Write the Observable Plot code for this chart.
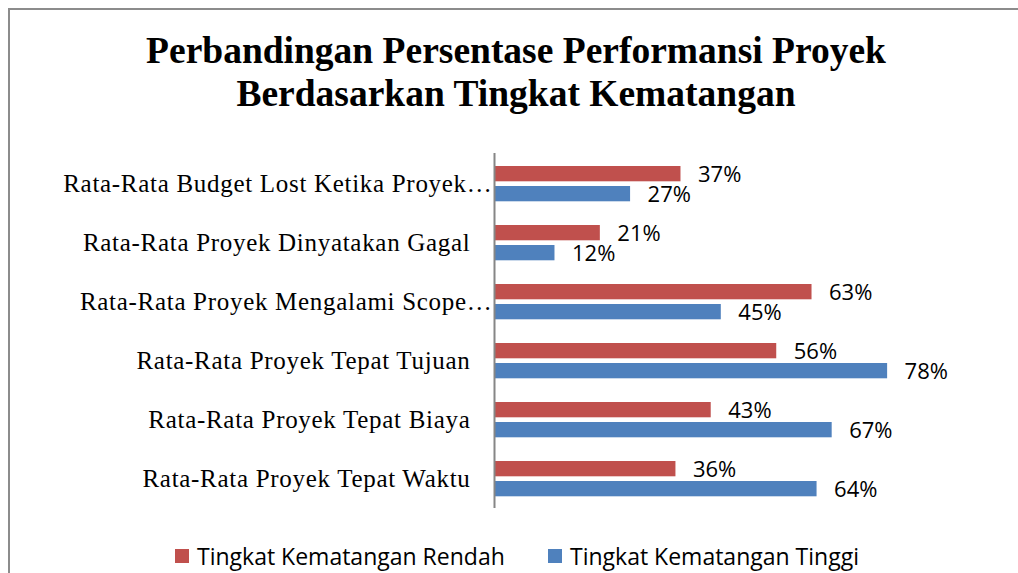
<!DOCTYPE html>
<html>
<head>
<meta charset="utf-8">
<script src="https://cdn.jsdelivr.net/npm/d3@7"></script>
<script src="https://cdn.jsdelivr.net/npm/@observablehq/plot@0.6"></script>
<style>
  html, body { margin: 0; padding: 0; background: #fff; }
  body { width: 1018px; height: 573px; position: relative; overflow: hidden; }
  #frame { position: absolute; left: 8px; top: 8px; width: 1100px; height: 700px;
           border-left: 2px solid #8c8c8c; border-top: 2px solid #8c8c8c; }
  #title { position: absolute; left: 0; top: 29px; width: 1032px; text-align: center;
           font-family: "Liberation Serif", "Times New Roman", serif; font-weight: bold;
           font-size: 37.5px; line-height: 43px; color: #000; }
  #chart { position: absolute; left: 0; top: 140px; }
  #legend { position: absolute; top: 542px; left: 0; width: 1018px; height: 28px;
            font-family: "Open Sans", sans-serif; font-size: 23px; color: #000; }
  .item { position: absolute; top: 0; display: flex; align-items: center; height: 28px; white-space: nowrap; }
  .sw { width: 14px; height: 14px; margin-right: 8px; }
</style>
</head>
<body>
<div id="frame"></div>
<div id="title">Perbandingan Persentase Performansi Proyek<br>Berdasarkan Tingkat Kematangan</div>
<div id="chart"></div>
<div id="legend"></div>
<script>
const categories = [
  "Rata-Rata Budget Lost Ketika Proyek…",
  "Rata-Rata Proyek Dinyatakan Gagal",
  "Rata-Rata Proyek Mengalami Scope…",
  "Rata-Rata Proyek Tepat Tujuan",
  "Rata-Rata Proyek Tepat Biaya",
  "Rata-Rata Proyek Tepat Waktu"
];
const rendah = [37, 21, 63, 56, 43, 36];
const tinggi = [27, 12, 45, 78, 67, 64];
const seriesNames = ["Tingkat Kematangan Rendah", "Tingkat Kematangan Tinggi"];
const seriesColors = ["#C0504D", "#4F81BD"];

const rows = categories.map((c, i) => ({category: c, rendah: rendah[i], tinggi: tinggi[i]}));
const isTrunc = d => d.category.endsWith("…");

const labelFont = {fontFamily: "'Liberation Serif', 'Times New Roman', serif", fontSize: 25, fill: "#000"};
const valFont = {fontFamily: "'Open Sans', sans-serif", fontSize: 22, fill: "#000"};

const plot = Plot.plot({
  width: 1018,
  height: 380,
  marginLeft: 494,
  marginRight: 20,
  marginTop: 13,
  marginBottom: 12,
  x: {domain: [0, 100], axis: null},
  y: {domain: categories, padding: 0, axis: null},
  marks: [
    Plot.barX(rows, {x: "rendah", y: "category", fill: seriesColors[0], insetTop: 12, insetBottom: 31.7}),
    Plot.barX(rows, {x: "tinggi", y: "category", fill: seriesColors[1], insetTop: 32, insetBottom: 11.7}),
    Plot.ruleX([0], {stroke: "#868686", strokeWidth: 2}),
    Plot.text(rows, {x: "rendah", y: "category", text: d => d.rendah + "%", textAnchor: "start", dx: 17, dy: -8.6, ...valFont}),
    Plot.text(rows, {x: "tinggi", y: "category", text: d => d.tinggi + "%", textAnchor: "start", dx: 17, dy: 10.7, ...valFont}),
    Plot.text(rows.filter(d => !isTrunc(d)), {y: "category", text: "category", frameAnchor: "left", textAnchor: "end", dx: -24, ...labelFont}),
    Plot.text(rows.filter(isTrunc), {y: "category", text: "category", frameAnchor: "left", textAnchor: "end", dx: -2, ...labelFont})
  ]
});
plot.querySelectorAll("text").forEach(t => {
  if ((t.getAttribute("font-family") || "").includes("Serif") || (t.parentNode.getAttribute && (t.parentNode.getAttribute("font-family") || "").includes("Serif"))) {
    t.style.letterSpacing = "0.7px";
  }
});
document.getElementById("chart").appendChild(plot);

const legend = document.getElementById("legend");
const lefts = [175, 548];
seriesNames.forEach((n, i) => {
  const it = document.createElement("div");
  it.className = "item";
  it.style.left = lefts[i] + "px";
  it.innerHTML = `<span class="sw" style="background:${seriesColors[i]}"></span><span>${n}</span>`;
  legend.appendChild(it);
});
</script>
</body>
</html>
